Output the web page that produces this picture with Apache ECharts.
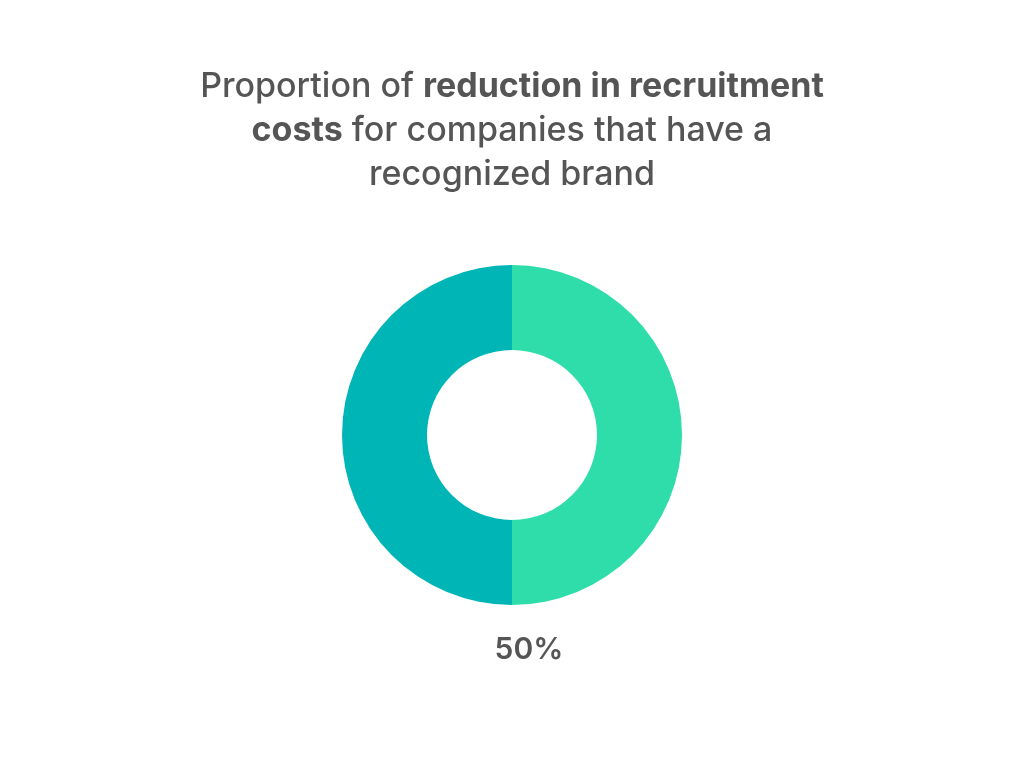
<!DOCTYPE html>
<html>
<head>
<meta charset="utf-8">
<script src="https://cdn.jsdelivr.net/npm/echarts@6/dist/echarts.min.js"></script>
<style>
html,body{margin:0;padding:0;background:#fff;}
#chart{width:1024px;height:768px;}
</style>
</head>
<body>
<div id="chart"></div>
<script>
var categories = ['Reduction in recruitment costs', 'Other'];
var values = [50, 50];
var colors = ['#2EDDAA', '#00B5B6'];
var titleLines = ['Proportion of {b|reduction in recruitment}', '{b|costs} for companies that have a', 'recognized brand'];
var labelText = values[0] + '%';

var chart = echarts.init(document.getElementById('chart'), null, {renderer: 'canvas'});
chart.setOption({
  backgroundColor: '#ffffff',
  animation: false,
  graphic: [{
    type: 'text',
    x: 512,
    y: 65,
    style: {
      text: titleLines.join('\n'),
      align: 'center',
      verticalAlign: 'top',
      fontFamily: 'Inter',
      fontSize: 34,
      fontWeight: 500,
      fill: '#555555',
      lineHeight: 44,
      rich: {
        b: {fontFamily: 'Inter', fontSize: 34, fontWeight: 'bold', fill: '#555555', lineHeight: 44}
      }
    }
  }, {
    type: 'text',
    x: 529,
    y: 650,
    style: {
      text: labelText,
      align: 'center',
      verticalAlign: 'middle',
      fontFamily: 'Inter',
      fontSize: 30,
      fontWeight: 600,
      fill: '#555555'
    }
  }],
  series: [{
    type: 'pie',
    center: [512, 435],
    radius: [85, 170],
    startAngle: 90,
    clockwise: true,
    label: {show: false},
    labelLine: {show: false},
    emphasis: {disabled: true},
    data: categories.map(function (c, i) {
      return {name: c, value: values[i], itemStyle: {color: colors[i]}};
    })
  }]
});
</script>
</body>
</html>
